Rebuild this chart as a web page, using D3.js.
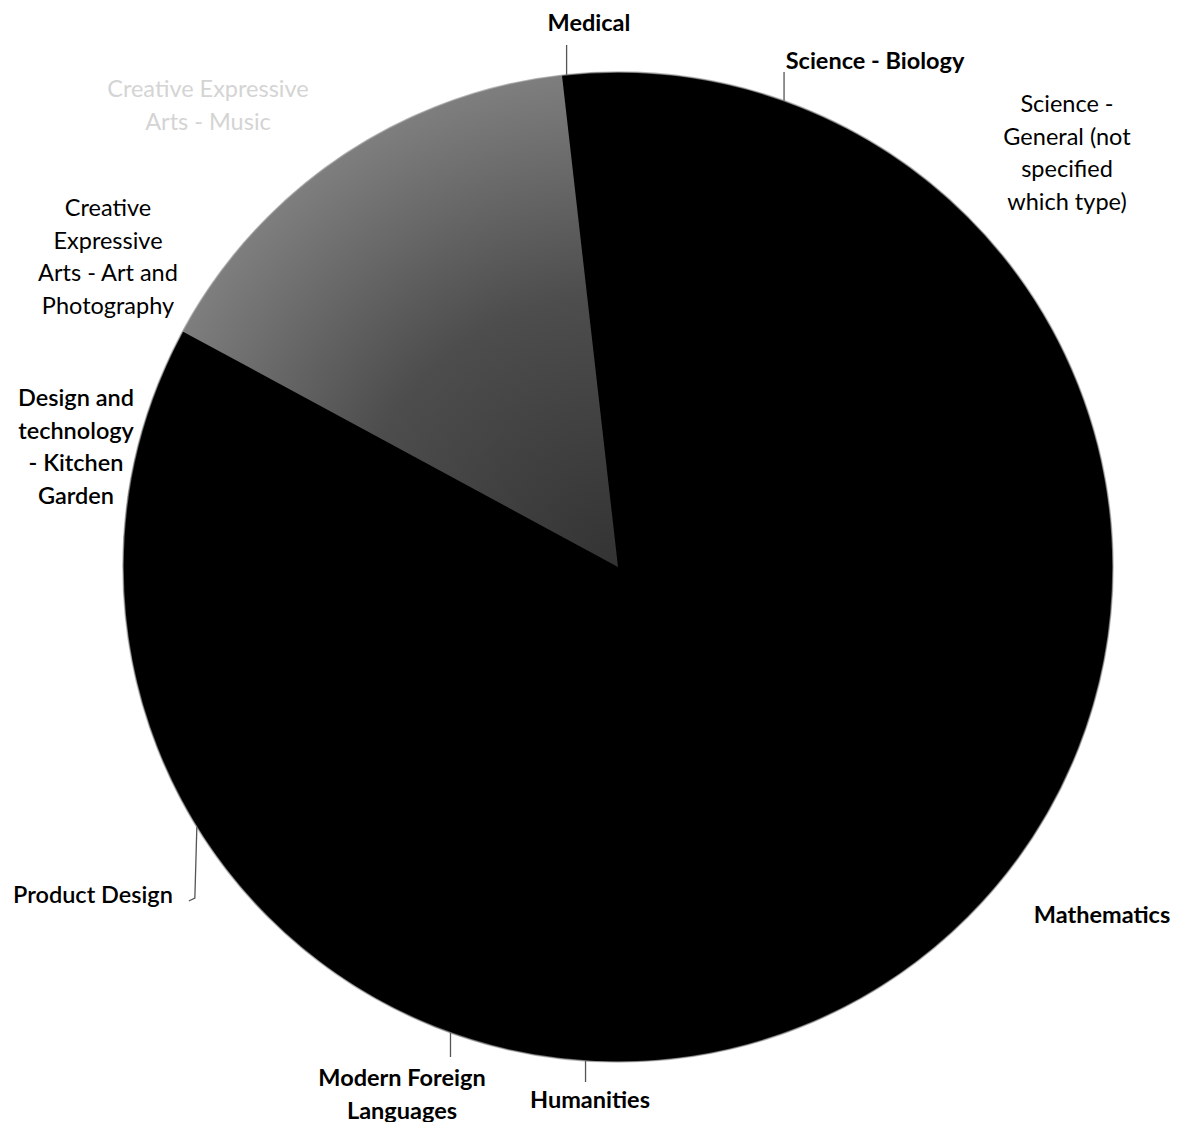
<!DOCTYPE html>
<html>
<head>
<meta charset="utf-8">
<script src="https://cdn.jsdelivr.net/npm/d3@7"></script>
<style>
  html, body { margin: 0; padding: 0; background: #fff; }
  svg { display: block; }
  text { font-family: Lato, "Open Sans", sans-serif; fill: #000; }
</style>
</head>
<body>
<svg id="chart" width="1179" height="1122"></svg>
<script>
// ---- data (estimated shares, %) ----
const categories = [
  "Medical",
  "Science - Biology",
  "Science - General (not specified which type)",
  "Mathematics",
  "Humanities",
  "Modern Foreign Languages",
  "Product Design",
  "Design and technology - Kitchen Garden",
  "Creative Expressive Arts - Art and Photography",
  "Creative Expressive Arts - Music"
];
const values = [0.3, 13.9, 2.5, 35.3, 1.7, 7.2, 14.2, 7.8, 1.8, 15.3];

// label text lines (as shown in the chart)
const labelLines = [
  ["Medical"],
  ["Science - Biology"],
  ["Science -", "General (not", "specified", "which type)"],
  ["Mathematics"],
  ["Humanities"],
  ["Modern Foreign", "Languages"],
  ["Product Design"],
  ["Design and", "technology", "- Kitchen", "Garden"],
  ["Creative", "Expressive", "Arts - Art and", "Photography"],
  ["Creative Expressive", "Arts - Music"]
];

// ---- layout / style (kept separate from data) ----
const W = 1179, H = 1122;
const cx = 618, cy = 567, R = 495;
const startDeg = -6.5;
const sliceColors = ["#000","#000","#000","#000","#000","#000","#000","#000","#000","url(#greyGrad)"];
// label anchor (x, first baseline y), weight, colour, leader end y (null = no leader)
const labelLayout = [
  {x: 589, y: 31,  w: 700, c: "#000", lead: 45},
  {x: 875, y: 69,  w: 700, c: "#000", lead: 72},
  {x: 1067, y: 112, w: 400, c: "#000", lead: null},
  {x: 1102, y: 923, w: 700, c: "#000", lead: null},
  {x: 590, y: 1108, w: 700, c: "#000", lead: 1082},
  {x: 402, y: 1086, w: 700, c: "#000", lead: 1057},
  {x: 93,  y: 903, w: 600, c: "#000", lead: 898},
  {x: 76,  y: 406, w: 600, c: "#000", lead: null},
  {x: 108, y: 216, w: 400, c: "#000", lead: null},
  {x: 208, y: 97,  w: 400, c: "#d4d4d4", lead: null}
];
const lineH = 32.5, fontSize = 23.5;

const svg = d3.select("#chart");
const defs = svg.append("defs");
const rg = defs.append("radialGradient")
  .attr("id", "greyGrad").attr("gradientUnits", "userSpaceOnUse")
  .attr("cx", 0).attr("cy", 0).attr("r", R);
rg.append("stop").attr("offset", "0%").attr("stop-color", "#333");
rg.append("stop").attr("offset", "55%").attr("stop-color", "#4d4d4d");
rg.append("stop").attr("offset", "100%").attr("stop-color", "#7e7e7e");

const toRad = d => d * Math.PI / 180;
const pie = d3.pie().sort(null).value(d => d.v)
  .startAngle(toRad(startDeg)).endAngle(toRad(startDeg + 360));
const data = categories.map((c, i) => ({c, v: values[i], i}));
const arcs = pie(data);
const arc = d3.arc().innerRadius(0).outerRadius(R);

const g = svg.append("g").attr("transform", `translate(${cx},${cy})`);
// dark base disc (avoids anti-aliasing seams between same-coloured slices)
g.append("circle").attr("r", R - 0.5).attr("fill", "#000");
g.selectAll("path.slice").data(arcs).enter().append("path")
  .attr("class", "slice")
  .attr("d", arc)
  .attr("fill", d => sliceColors[d.data.i]);
// soft scanned edge
g.append("circle").attr("r", R).attr("fill", "none")
  .attr("stroke", "#9a9a9a").attr("stroke-width", 1.5).attr("stroke-opacity", 0.7);

// leader lines from slice mid-angle on the rim to the label
const lead = svg.append("g").attr("stroke", "#555").attr("stroke-width", 1.3).attr("fill", "none");
arcs.forEach(d => {
  const L = labelLayout[d.data.i];
  if (L.lead == null) return;
  const m = (d.startAngle + d.endAngle) / 2;
  const px = cx + R * Math.sin(m), py = cy - R * Math.cos(m);
  if (d.data.c === "Product Design") {
    lead.append("path").attr("d", `M${px},${py}L${px - 2},${L.lead}L${px - 8},${L.lead + 3}`);
  } else {
    lead.append("line").attr("x1", px).attr("y1", py).attr("x2", px).attr("y2", L.lead);
  }
});

// labels
const lab = svg.append("g");
labelLines.forEach((lines, i) => {
  const L = labelLayout[i];
  const t = lab.append("text")
    .attr("x", L.x).attr("y", L.y)
    .attr("text-anchor", "middle")
    .attr("font-size", fontSize)
    .attr("font-weight", L.w)
    .style("fill", L.c);
  lines.forEach((s, k) => {
    t.append("tspan").attr("x", L.x).attr("dy", k === 0 ? 0 : lineH).text(s);
  });
});
</script>
</body>
</html>
